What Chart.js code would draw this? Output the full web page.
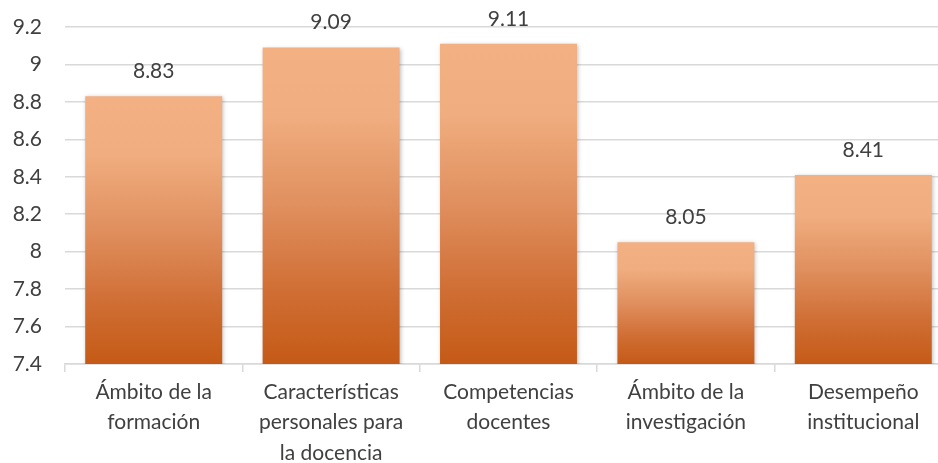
<!DOCTYPE html>
<html>
<head>
<meta charset="utf-8">
<script src="https://cdn.jsdelivr.net/npm/chart.js@4"></script>
<style>
  html, body { margin: 0; padding: 0; background: #fff; overflow: hidden; }
  #wrap { width: 952px; height: 463px; }
</style>
</head>
<body>
<div id="wrap"><canvas id="myChart"></canvas></div>
<script>
const categories = [
  ['Ámbito de la', 'formación'],
  ['Características', 'personales para', 'la docencia'],
  ['Competencias', 'docentes'],
  ['Ámbito de la', 'investigación'],
  ['Desempeño', 'institucional']
];
const values = [8.83, 9.09, 9.11, 8.05, 8.41];
const yTicks = [7.4, 7.6, 7.8, 8, 8.2, 8.4, 8.6, 8.8, 9, 9.2];

const FONT = 'Lato, "Open Sans", sans-serif';

function barFill(c) {
  const chart = c.chart;
  if (!chart.chartArea || !chart.scales.y) return '#e08a50';
  const y = chart.scales.y;
  const top = y.getPixelForValue(c.raw);
  const bottom = y.getPixelForValue(yTicks[0]);
  const g = chart.ctx.createLinearGradient(0, top, 0, bottom);
  g.addColorStop(0, '#f3b083');
  g.addColorStop(0.22, '#f0ad7f');
  g.addColorStop(0.5, '#e08f5e');
  g.addColorStop(0.78, '#cf6d33');
  g.addColorStop(1, '#c55a16');
  return g;
}

const labelPlugin = {
  id: 'valueLabels',
  beforeDatasetsDraw(chart) {
    chart.ctx.save();
    chart.ctx.shadowColor = 'rgba(0,0,0,0.25)';
    chart.ctx.shadowBlur = 4;
    chart.ctx.shadowOffsetX = 1;
    chart.ctx.shadowOffsetY = 1;
  },
  afterDatasetsDraw(chart) {
    const ctx = chart.ctx;
    ctx.restore();
    ctx.save();
    ctx.font = '21px ' + FONT;
    ctx.fillStyle = '#404040';
    ctx.textAlign = 'center';
    ctx.textBaseline = 'middle';
    chart.getDatasetMeta(0).data.forEach((bar, i) => {
      ctx.fillText(values[i].toFixed(2), bar.x, bar.y - 25);
    });
    ctx.restore();
  }
};

new Chart(document.getElementById('myChart'), {
  type: 'bar',
  data: {
    labels: categories,
    datasets: [{
      data: values,
      backgroundColor: barFill,
      borderWidth: 0,
      barPercentage: 0.772,
      categoryPercentage: 1
    }]
  },
  plugins: [labelPlugin],
  options: {
    responsive: true,
    maintainAspectRatio: false,
    animation: false,
    layout: { padding: { top: 27, right: 0, left: 0, bottom: 0 } },
    plugins: { legend: { display: false }, tooltip: { enabled: false } },
    scales: {
      y: {
        min: 7.4,
        max: 9.2,
        afterBuildTicks(scale) { scale.ticks = yTicks.map(v => ({ value: v })); },
        afterFit(scale) {
          scale.width = 65;
          scale.paddingTop = 0;
          scale.paddingBottom = 0;
        },
        ticks: {
          color: '#404040',
          font: { family: FONT, size: 21 },
          padding: 23,
          callback: v => String(Math.round(v * 10) / 10)
        },
        grid: { color: '#d9d9d9', lineWidth: 1.5, drawTicks: false },
        border: { display: false }
      },
      x: {
        afterFit(scale) {
          scale.height = 99;
          scale.paddingLeft = 0;
          scale.paddingRight = 0;
        },
        ticks: {
          color: '#404040',
          font: { family: FONT, size: 21, lineHeight: 1.45 },
          padding: 5,
          maxRotation: 0,
          autoSkip: false
        },
        grid: {
          offset: true,
          drawOnChartArea: false,
          color: '#d9d9d9',
          lineWidth: 1.5,
          tickLength: 8
        },
        border: { display: true, color: '#d9d9d9', width: 1.5 }
      }
    }
  }
});
</script>
</body>
</html>
